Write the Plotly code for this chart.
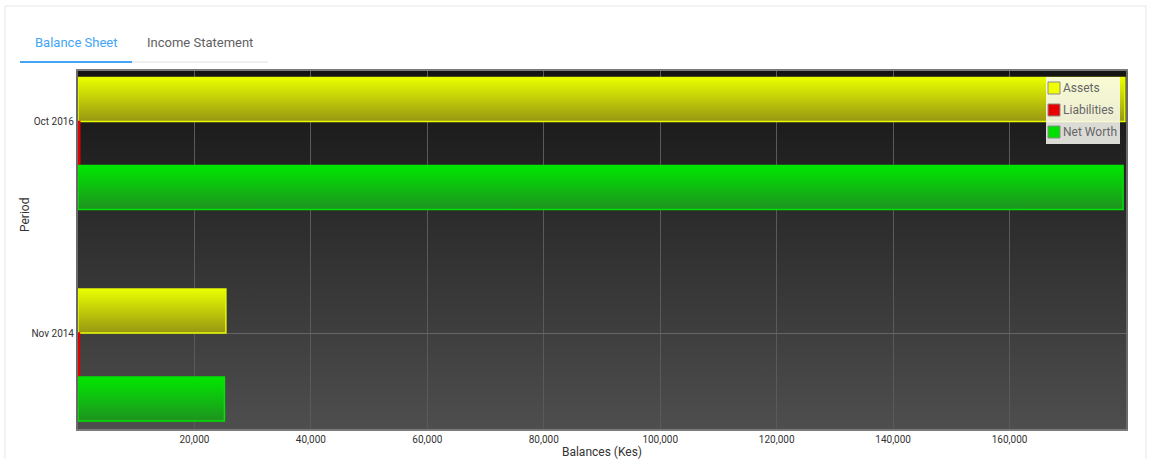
import plotly.graph_objects as go

# Balance sheet data (Kes)
periods = ["Oct 2016", "Nov 2014"]
series_names = ["Assets", "Liabilities", "Net Worth"]
assets = [179800, 25400]
liabilities = [300, 250]
net_worth = [179500, 25150]
x_tick_values = [20000, 40000, 60000, 80000, 100000, 120000, 140000, 160000]
x_tick_labels = ["20,000", "40,000", "60,000", "80,000", "100,000", "120,000", "140,000", "160,000"]

series_values = [assets, liabilities, net_worth]
# (top colour, bottom colour, outline colour, legend swatch)
series_styles = [
    ("#e9ff00", "#979712", "#e8fa00", "#f2ff00"),
    ("#ff1a1a", "#b00000", "#e00000", "#e80000"),
    ("#00e800", "#1e9220", "#00e400", "#00e000"),
]

W, H = 1154, 459
L, R, T, B = 78, 28, 71, 30
pw, ph = W - L - R, H - T - B

BAR_H = 0.208  # thickness of one bar in category units
fig = go.Figure()

for k, (name, vals) in enumerate(zip(series_names, series_values)):
    top_c, bot_c, line_c, _ = series_styles[k]
    for i, v in enumerate(vals):
        c = i + (k - 1) * BAR_H
        y0, y1 = c - BAR_H / 2, c + BAR_H / 2
        fig.add_trace(go.Scatter(
            x=[0, v, v, 0, 0],
            y=[y0, y0, y1, y1, y0],
            mode="lines",
            fill="toself",
            fillgradient=dict(type="vertical",
                              colorscale=[[0, bot_c], [1, top_c]]),
            line=dict(color=line_c, width=1.5),
            name=name,
            showlegend=False,
            hoverinfo="skip",
        ))

def px_x(p):
    return (p - L) / pw

def px_y(p):
    return (H - B - p) / ph

# plot-area background gradient
bg_svg = (
    "data:image/svg+xml;utf8,"
    "<svg xmlns='http://www.w3.org/2000/svg' width='100' height='100' preserveAspectRatio='none'>"
    "<defs><linearGradient id='g' x1='0' y1='0' x2='0' y2='1'>"
    "<stop offset='0' stop-color='%23141414'/><stop offset='1' stop-color='%234e4e4e'/>"
    "</linearGradient></defs><rect width='100' height='100' fill='url(%23g)'/></svg>"
)

shapes = [
    # card outline
    dict(type="rect", xref="paper", yref="paper",
         x0=px_x(5), x1=px_x(1146), y0=px_y(470), y1=px_y(6),
         line=dict(color="#e6e6e6", width=1), fillcolor="rgba(0,0,0,0)", layer="below"),
    # tab underline
    dict(type="line", xref="paper", yref="paper",
         x0=px_x(132), x1=px_x(268), y0=px_y(62), y1=px_y(62),
         line=dict(color="#e0e0e0", width=1)),
    dict(type="line", xref="paper", yref="paper",
         x0=px_x(20), x1=px_x(132), y0=px_y(62), y1=px_y(62),
         line=dict(color="#42a5f5", width=2)),
    # legend box
    dict(type="rect", xref="paper", yref="paper",
         x0=px_x(1046), x1=px_x(1120), y0=px_y(144), y1=px_y(77),
         line=dict(width=0), fillcolor="rgba(250,250,245,0.86)", layer="above"),
]

annotations = [
    dict(text="Balance Sheet", xref="paper", yref="paper", x=px_x(76), y=px_y(43),
         xanchor="center", yanchor="middle",
         showarrow=False, font=dict(family="Roboto", size=13, color="#42a5f5")),
    dict(text="Income Statement", xref="paper", yref="paper", x=px_x(200), y=px_y(43),
         xanchor="center", yanchor="middle",
         showarrow=False, font=dict(family="Roboto", size=13, color="#616161")),
    dict(text="Period", xref="paper", yref="paper", x=px_x(25), y=px_y(215),
         xanchor="center", yanchor="middle", textangle=-90,
         showarrow=False, font=dict(family="Roboto", size=12, color="#333")),
]

for k, name in enumerate(series_names):
    cy = 88 + 22 * k
    shapes.append(dict(type="rect", xref="paper", yref="paper",
                       x0=px_x(1048), x1=px_x(1060), y0=px_y(cy + 6), y1=px_y(cy - 6),
                       line=dict(color="#8a8a8a", width=1),
                       fillcolor=series_styles[k][3], layer="above"))
    annotations.append(dict(text=name, xref="paper", yref="paper",
                            x=px_x(1061), y=px_y(cy), xanchor="left", yanchor="middle",
                            showarrow=False,
                            font=dict(family="Roboto", size=12, color="#666666")))

fig.update_layout(
    width=W, height=H,
    margin=dict(l=L, r=R, t=T, b=B, autoexpand=False),
    paper_bgcolor="white",
    plot_bgcolor="rgba(0,0,0,0)",
    showlegend=False,
    font=dict(family="Roboto", color="#333"),
    images=[dict(source=bg_svg, xref="paper", yref="paper", x=0, y=1,
                 sizex=1, sizey=1, sizing="stretch", layer="below")],
    shapes=shapes,
    annotations=annotations,
    xaxis=dict(
        range=[0, 180000],
        tickmode="array", tickvals=x_tick_values, ticktext=x_tick_labels,
        showgrid=True, gridcolor="#5a5a5a", gridwidth=1,
        zeroline=False,
        showline=True, linecolor="#7a7a7a", linewidth=2, mirror=True,
        ticks="", tickfont=dict(size=10, color="#333"),
        title=dict(text="Balances (Kes)", font=dict(size=12, color="#333"), standoff=8),
        automargin=False,
    ),
    yaxis=dict(
        range=[1.35, -0.343],
        tickmode="array",
        tickvals=[i - BAR_H / 2 for i in range(len(periods))],
        ticktext=periods,
        showgrid=True, gridcolor="#666666", gridwidth=1,
        zeroline=False,
        showline=True, linecolor="#6a6a6a", linewidth=2, mirror=True,
        ticks="", tickfont=dict(size=10, color="#333"),
        ticklabelstandoff=0,
        automargin=False,
    ),
)

fig.write_html("out.html")
